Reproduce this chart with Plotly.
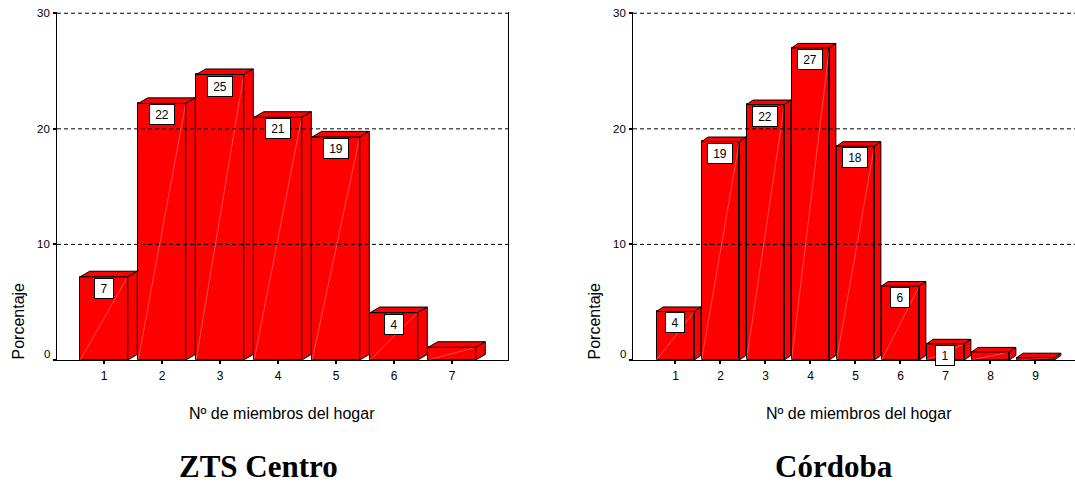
import plotly.graph_objects as go

# household size distributions (percent)
cats_zts = [1, 2, 3, 4, 5, 6, 7]
pct_zts = [7.2, 22.2, 24.7, 21.0, 19.3, 4.1, 1.1]
lbl_zts = ["7", "22", "25", "21", "19", "4", ""]

cats_cba = [1, 2, 3, 4, 5, 6, 7, 8, 9]
pct_cba = [4.2, 18.9, 22.1, 27.0, 18.5, 6.4, 1.4, 0.7, 0.2]
lbl_cba = ["4", "19", "22", "27", "18", "6", "1", "", ""]

y_ticks = [0, 10, 20, 30]
grid_ticks = [10, 20, 30]

W, H = 1075, 485
sans = "Liberation Sans, Arial, sans-serif"
serif = "Liberation Serif, Times New Roman, serif"


def px_x(p):
    return p / W


def px_y(p):
    return (H - p) / H


fig = go.Figure()


def add_panel(cats, vals, labels, xa, ya, w, dx, dy):
    # front faces
    fig.add_trace(go.Bar(x=cats, y=vals, width=w, marker=dict(color="#ff0000", line=dict(color="black", width=1)),
                         xaxis=xa, yaxis=ya, showlegend=False, hoverinfo="skip"))
    top_x, top_y, side_x, side_y, dia_x, dia_y = [], [], [], [], [], []
    for c, v in zip(cats, vals):
        xl, xr = c - w / 2, c + w / 2
        top_x += [xl, xr, xr + dx, xl + dx, xl, None]
        top_y += [v, v, v + dy, v + dy, v, None]
        side_x += [xr, xr + dx, xr + dx, xr, xr, None]
        side_y += [0, dy, v + dy, v, 0, None]
        dia_x += [xl, xr, None]
        dia_y += [0, v, None]
    fig.add_trace(go.Scatter(x=dia_x, y=dia_y, mode="lines", line=dict(color="rgba(255,205,205,0.75)", width=0.5),
                             xaxis=xa, yaxis=ya, showlegend=False, hoverinfo="skip"))
    for px_, py_ in [(top_x, top_y), (side_x, side_y)]:
        fig.add_trace(go.Scatter(x=px_, y=py_, mode="lines", fill="toself", fillcolor="#ff0000",
                                 line=dict(color="black", width=1), xaxis=xa, yaxis=ya,
                                 showlegend=False, hoverinfo="skip", cliponaxis=False))
    for c, v, t in zip(cats, vals, labels):
        if not t:
            continue
        fig.add_annotation(x=c, y=v, xref=xa, yref=ya, text=t, showarrow=False, yanchor="top", yshift=-1,
                           xanchor="center", width=12 + 6 * len(t), height=19, bgcolor="white",
                           bordercolor="black", borderwidth=1, borderpad=0,
                           font=dict(family=sans, size=12, color="black"))
    for g in grid_ticks:
        fig.add_shape(type="line", xref=xa + " domain", yref=ya, x0=0, x1=1, y0=g, y1=g,
                      line=dict(color="black", width=1, dash="4px,3px"), layer="above")
    # y tick labels (the 0 label sits a bit above its tick, clear of the x axis)
    for t in y_ticks:
        fig.add_annotation(x=0, y=t, xref=xa + " domain", yref=ya, text=str(t), showarrow=False,
                           xanchor="right", yanchor="middle", xshift=-5, yshift=6 if t == 0 else 0,
                           font=dict(family=sans, size=11.5, color="black"))


add_panel(cats_zts, pct_zts, lbl_zts, "x", "y", 0.82, 0.164, 0.48)
add_panel(cats_cba, pct_cba, lbl_cba, "x2", "y2", 0.84, 0.144, 0.39)

axis_common = dict(showgrid=False, zeroline=False, showline=True, linecolor="black", linewidth=1,
                   ticks="outside", ticklen=3, tickwidth=2, tickcolor="black")

y_dom = [px_y(360), px_y(12.1)]
fig.update_layout(
    width=W, height=H, margin=dict(l=0, r=0, t=0, b=0),
    paper_bgcolor="white", plot_bgcolor="white", bargap=0,
    xaxis=dict(domain=[px_x(57), px_x(508)], range=[0.19, 7.966], tickvals=cats_zts, anchor="y",
               ticklabelstandoff=2, tickfont=dict(family=sans, size=12, color="black"), **axis_common),
    yaxis=dict(domain=y_dom, range=[0, 30.1], tickvals=y_ticks, anchor="x", mirror=True,
               showticklabels=False, **axis_common),
    xaxis2=dict(domain=[px_x(633), 1.0], range=[0.056, 9.878], tickvals=cats_cba, anchor="y2",
                ticklabelstandoff=2, tickfont=dict(family=sans, size=12, color="black"), **axis_common),
    yaxis2=dict(domain=y_dom, range=[0, 30.1], tickvals=y_ticks, anchor="x2",
                showticklabels=False, **axis_common),
)

# axis titles and panel titles
for xc in [282, 859]:
    fig.add_annotation(x=px_x(xc), y=px_y(413), xref="paper", yref="paper", text="Nº de miembros del hogar",
                       showarrow=False, xanchor="center", yanchor="middle",
                       font=dict(family=sans, size=16, color="black"))
for xc in [18, 594]:
    fig.add_annotation(x=px_x(xc), y=px_y(362), xref="paper", yref="paper", text="Porcentaje", textangle=-90,
                       showarrow=False, xanchor="center", yanchor="bottom",
                       font=dict(family=sans, size=16, color="black"))
for xc, t in [(258, "ZTS Centro"), (834, "Córdoba")]:
    fig.add_annotation(x=px_x(xc), y=px_y(466), xref="paper", yref="paper", text="<b>%s</b>" % t,
                       showarrow=False, xanchor="center", yanchor="middle",
                       font=dict(family=serif, size=31, color="black"))

# page body has a default 8px margin; remove it so the figure fills the window
fig.write_html("out.html", config={"displayModeBar": False},
               post_script="document.body.style.margin='0px';")
